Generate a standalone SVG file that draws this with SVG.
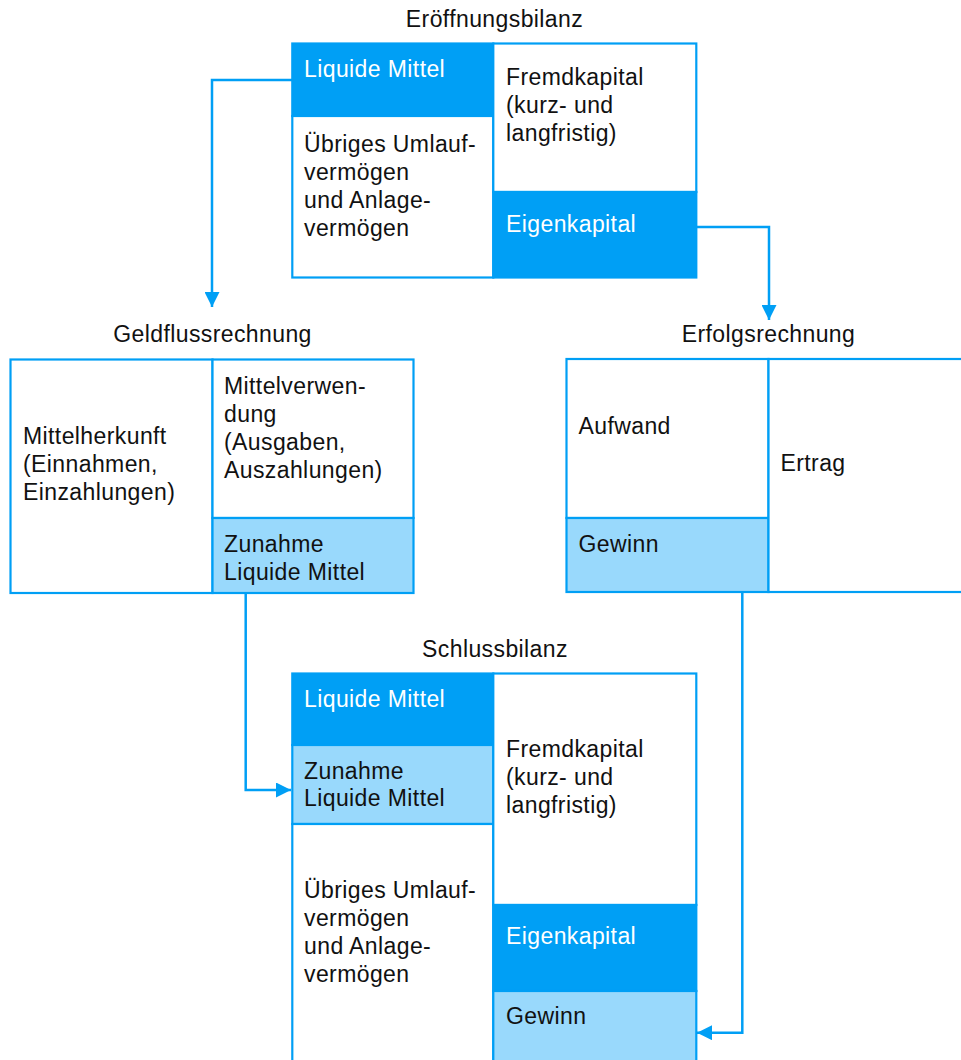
<svg xmlns="http://www.w3.org/2000/svg" width="961" height="1060" viewBox="0 0 961 1060">
<style>
text{font-family:"Liberation Sans",Arial,Helvetica,sans-serif;font-size:23px;letter-spacing:0.4px;fill:#111}
.t{text-anchor:middle}
.w{fill:#fff}
.cw{fill:#fff;stroke:#009FF5;stroke-width:2.2}
.cd{fill:#009FF5;stroke:#009FF5;stroke-width:2.2}
.cl{fill:#99D9FC;stroke:#009FF5;stroke-width:2.2}
.con{fill:none;stroke:#009FF5;stroke-width:2.5;marker-end:url(#ah)}
</style>
<defs>
<marker id="ah" markerUnits="userSpaceOnUse" markerWidth="15" markerHeight="15" refX="15" refY="7.5" orient="auto">
<path d="M0,0 L15,7.5 L0,15 z" fill="#009FF5"/>
</marker>
</defs>
<rect width="961" height="1060" fill="#fff"/>

<g id="connectors">
<path class="con" d="M292,80 H212 V307"/>
<path class="con" d="M696,227 H769 V320"/>
<path class="con" d="M245.7,593 V790 H291"/>
<path class="con" d="M742.3,592 V1032.7 H697"/>
</g>

<g id="eroeffnungsbilanz">
<text class="t" x="494.5" y="27">Eröffnungsbilanz</text>
<rect class="cd" x="292.3" y="43.5" width="201" height="72.5"/>
<rect class="cw" x="292.3" y="116" width="201" height="161.5"/>
<rect class="cw" x="493.3" y="43.5" width="203" height="148.5"/>
<rect class="cd" x="493.3" y="192" width="203" height="85.5"/>
<text class="w" x="304" y="77">Liquide Mittel</text>
<text x="304" y="152">Übriges Umlauf-</text>
<text x="304" y="180">vermögen</text>
<text x="304" y="208">und Anlage-</text>
<text x="304" y="236">vermögen</text>
<text x="506" y="85">Fremdkapital</text>
<text x="506" y="113">(kurz- und</text>
<text x="506" y="141">langfristig)</text>
<text class="w" x="506" y="232">Eigenkapital</text>
</g>

<g id="geldflussrechnung">
<text class="t" x="212.5" y="342">Geldflussrechnung</text>
<rect class="cw" x="10.5" y="359.5" width="202" height="233.5"/>
<rect class="cw" x="212.5" y="359.5" width="201" height="158.5"/>
<rect class="cl" x="212.5" y="518" width="201" height="75"/>
<text x="23" y="444">Mittelherkunft</text>
<text x="23" y="472">(Einnahmen,</text>
<text x="23" y="500">Einzahlungen)</text>
<text x="224" y="394">Mittelverwen-</text>
<text x="224" y="422">dung</text>
<text x="224" y="450">(Ausgaben,</text>
<text x="224" y="478">Auszahlungen)</text>
<text x="224" y="552">Zunahme</text>
<text x="224" y="580">Liquide Mittel</text>
</g>

<g id="erfolgsrechnung">
<text class="t" x="768.5" y="342">Erfolgsrechnung</text>
<rect class="cw" x="566.5" y="359" width="202" height="159"/>
<rect class="cl" x="566.5" y="518" width="202" height="74"/>
<rect class="cw" x="768.5" y="359" width="205" height="233"/>
<text x="578.5" y="433.5">Aufwand</text>
<text x="780.5" y="471">Ertrag</text>
<text x="578.5" y="552">Gewinn</text>
</g>

<g id="schlussbilanz">
<text class="t" x="495" y="657">Schlussbilanz</text>
<rect class="cd" x="292.3" y="673.5" width="201" height="71.5"/>
<rect class="cl" x="292.3" y="745" width="201" height="79"/>
<rect class="cw" x="292.3" y="824" width="201" height="250"/>
<rect class="cw" x="493.3" y="673.5" width="203" height="231.5"/>
<rect class="cd" x="493.3" y="905" width="203" height="86"/>
<rect class="cl" x="493.3" y="991" width="203" height="83"/>
<text class="w" x="304" y="707">Liquide Mittel</text>
<text x="304" y="778.5">Zunahme</text>
<text x="304" y="806">Liquide Mittel</text>
<text x="304" y="897.5">Übriges Umlauf-</text>
<text x="304" y="925.5">vermögen</text>
<text x="304" y="953.5">und Anlage-</text>
<text x="304" y="981.5">vermögen</text>
<text x="506" y="757">Fremdkapital</text>
<text x="506" y="785">(kurz- und</text>
<text x="506" y="813">langfristig)</text>
<text class="w" x="506" y="943.5">Eigenkapital</text>
<text x="506" y="1023.5">Gewinn</text>
</g>
</svg>
